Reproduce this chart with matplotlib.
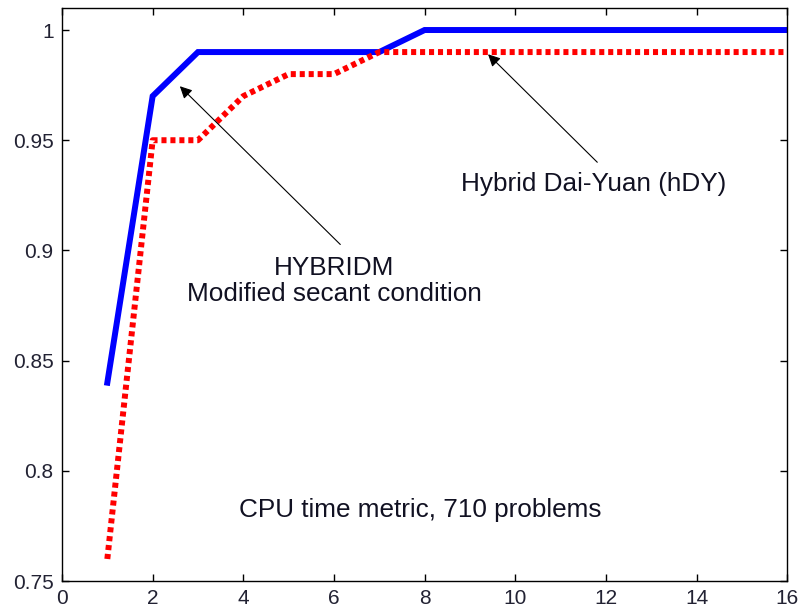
import numpy as np
import matplotlib.pyplot as plt

plt.rcParams['font.family'] = ['Liberation Sans', 'DejaVu Sans']

# performance profile, CPU time
tau = [1, 2, 3, 4, 5, 6, 7, 8, 16]
hybridm = [0.84, 0.97, 0.99, 0.99, 0.99, 0.99, 0.99, 1.0, 1.0]
hdy = [0.76, 0.95, 0.95, 0.97, 0.98, 0.98, 0.99, 0.99, 0.99]

xticks = [0, 2, 4, 6, 8, 10, 12, 14, 16]
yticks = [0.75, 0.8, 0.85, 0.9, 0.95, 1.0]
ylabels = ['0.75', '0.8', '0.85', '0.9', '0.95', '1']

fig = plt.figure(figsize=(8, 6.14), dpi=100)
ax = fig.add_axes([0.0775, 0.0537, 0.9065, 0.9333])

ax.plot(tau, hybridm, color='#0000ff', lw=4.3, solid_joinstyle='miter')
ax.plot(tau, hdy, color='#ff0000', lw=4.3, linestyle=(0, (0.85, 0.65)),
        dash_capstyle='butt')

ax.set_xlim(0, 16)
ax.set_ylim(0.75, 1.01)
ax.set_xticks(xticks)
ax.set_yticks(yticks)
ax.set_yticklabels(ylabels)
ax.tick_params(direction='in', length=5, width=1, labelsize=15,
               top=True, right=True, pad=6, labelcolor='#222233')
for s in ax.spines.values():
    s.set_linewidth(1)

arr = dict(arrowstyle='-|>', color='black', lw=0.8, mutation_scale=18,
           shrinkA=0, shrinkB=0)
ax.annotate('', xy=(2.6, 0.9745), xytext=(6.14, 0.9027), arrowprops=arr)
ax.annotate('', xy=(9.4, 0.989), xytext=(11.81, 0.94), arrowprops=arr)

ax.text(6.0, 0.886, 'HYBRIDM\nModified secant condition', ha='center',
        va='center', fontsize=18.8, linespacing=1.1, color='#111122')
ax.text(11.72, 0.93, 'Hybrid Dai-Yuan (hDY)', ha='center', va='center',
        fontsize=18.8, color='#111122')
ax.text(7.9, 0.782, 'CPU time metric, 710 problems', ha='center',
        va='center', fontsize=18.8, color='#111122')

fig.savefig('out.png', dpi=100)
